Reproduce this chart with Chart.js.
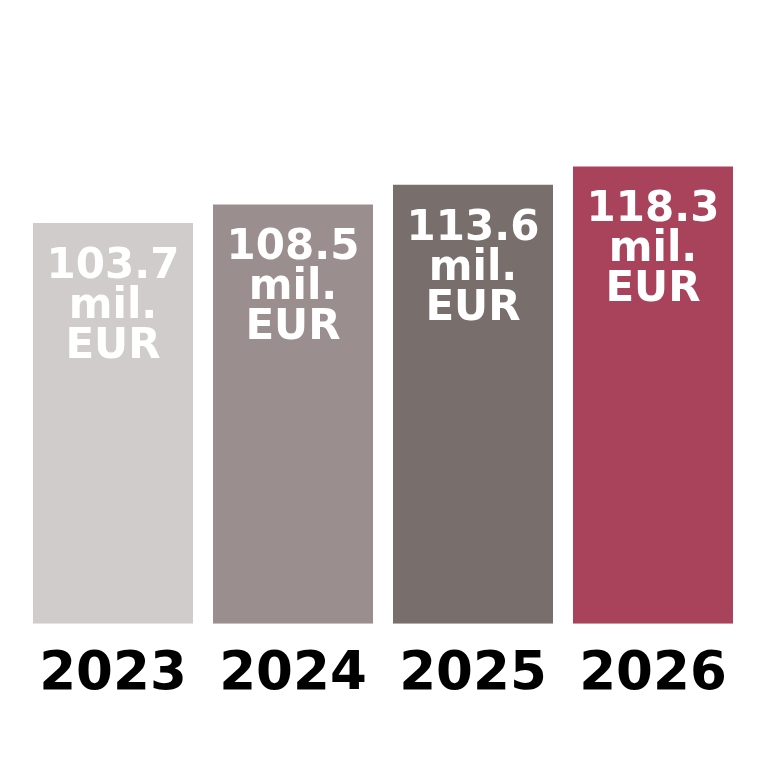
<!DOCTYPE html>
<html>
<head>
<meta charset="utf-8">
<script src="https://cdn.jsdelivr.net/npm/chart.js@4/dist/chart.umd.min.js"></script>
<style>
  html, body { margin: 0; padding: 0; background: #ffffff; }
  #wrap { width: 768px; height: 768px; }
</style>
</head>
<body>
<div id="wrap"><canvas id="c" width="768" height="768"></canvas></div>
<script>
const categories = ['2023', '2024', '2025', '2026'];
const values = [103.7, 108.5, 113.6, 118.3];
const unitLines = ['mil.', 'EUR'];
const barColors = ['#d0cccb', '#9a8f8e', '#786f6d', '#a8435b'];

const insideLabels = {
  id: 'insideLabels',
  afterDatasetsDraw(chart) {
    const ctx = chart.ctx;
    const meta = chart.getDatasetMeta(0);
    ctx.save();
    ctx.fillStyle = '#ffffff';
    ctx.font = 'bold 42px "DejaVu Sans"';
    ctx.textAlign = 'center';
    ctx.textBaseline = 'middle';
    meta.data.forEach((bar, i) => {
      const lines = [values[i].toFixed(1)].concat(unitLines);
      lines.forEach((t, k) => {
        ctx.fillText(t, bar.x, bar.y + 44 + k * 40);
      });
    });
    ctx.restore();
  }
};

new Chart(document.getElementById('c'), {
  type: 'bar',
  data: {
    labels: categories,
    datasets: [{
      data: values,
      backgroundColor: barColors,
      borderWidth: 0,
      categoryPercentage: 1.0,
      barPercentage: 160 / 180
    }]
  },
  options: {
    responsive: false,
    animation: false,
    layout: { padding: { left: 23, right: 25, top: 44, bottom: 48.6 } },
    plugins: { legend: { display: false }, tooltip: { enabled: false } },
    scales: {
      x: {
        grid: { display: false },
        border: { display: false },
        ticks: {
          color: '#000000',
          padding: 12,
          font: { family: 'DejaVu Sans', weight: 'bold', size: 53 }
        }
      },
      y: {
        display: false,
        min: 0,
        max: 150
      }
    }
  },
  plugins: [insideLabels]
});
</script>
</body>
</html>
